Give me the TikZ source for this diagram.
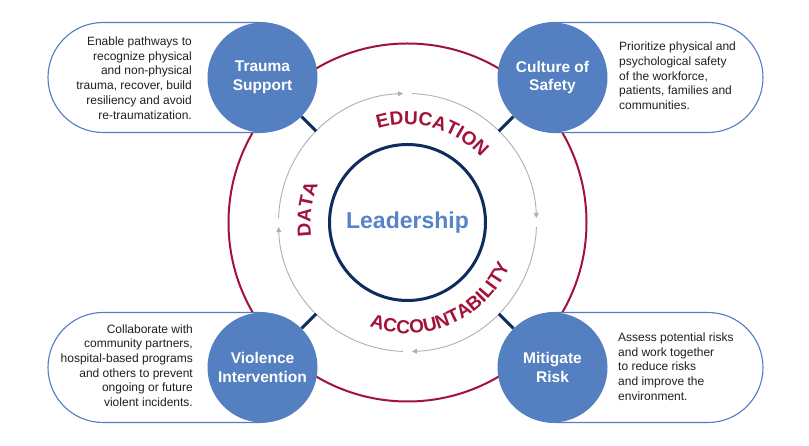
\documentclass[tikz,border=0pt]{standalone}
\usepackage{fontspec}
\setmainfont{Liberation Sans}
\usetikzlibrary{arrows.meta,decorations.text}
\definecolor{satblue}{RGB}{84,127,192}
\definecolor{pillblue}{RGB}{80,125,195}
\definecolor{ringred}{RGB}{163,18,58}
\definecolor{navy}{RGB}{14,44,94}
\definecolor{ringgray}{RGB}{176,176,176}
\definecolor{leadblue}{RGB}{86,132,200}
\definecolor{desc}{RGB}{35,31,32}
\newcommand\curvefont{\bfseries\fontsize{19}{19}\selectfont}
\begin{document}
\begin{tikzpicture}[x=1pt,y=1pt,
  sat/.style={circle,fill=satblue,minimum size=110pt,inner sep=0pt,text=white,
    font=\bfseries\fontsize{15.5}{18.5}\selectfont,align=center},
  pill/.style={draw=pillblue,line width=1.1pt,fill=white,rounded corners=55pt},
  desctext/.style={inner sep=0pt,text=desc,font=\fontsize{12}{14.7}\selectfont},
  conn/.style={draw=navy,line width=3pt},
  grayarc/.style={draw=ringgray,line width=0.9pt,-{Triangle[length=5pt,width=5pt]}},
  curved/.style={decorate,decoration={text along path,text align=center,text color=ringred}}
]
\fill[white] (0,0) rectangle (809,446);
\useasboundingbox (0,0) rectangle (809,446);
\coordinate (C) at (407.5,223.5);
% outer red ring
\draw[ringred,line width=2pt] (C) circle[radius=179];
% gray cycle arrows
\draw[grayarc] ([shift={(178:129)}]C) arc[start angle=178,end angle=92,radius=129];
\draw[grayarc] ([shift={(88:129)}]C) arc[start angle=88,end angle=2,radius=129];
\draw[grayarc] ([shift={(-2:129)}]C) arc[start angle=-2,end angle=-88,radius=129];
\draw[grayarc] ([shift={(-92:129)}]C) arc[start angle=-92,end angle=-178,radius=129];
\node[circle,minimum size=258pt,inner sep=0pt] (ring) at (C) {};
% pills
\draw[pill] (48,313.5) rectangle (314,423.5);
\draw[pill] (500,313.5) rectangle (763,423.5);
\draw[pill] (48,23.5) rectangle (314,133.5);
\draw[pill] (500,23.5) rectangle (763,133.5);
% satellites
\node[sat] (ts) at (262.5,368.5) {Trauma\\Support};
\node[sat] (cs) at (552.5,368.5) {Culture of\\Safety};
\node[sat] (vi) at (262.5,78.5) {Violence\\Intervention};
\node[sat] (mr) at (552.5,78.5) {Mitigate\\Risk};
% connectors
\draw[conn] (ts) -- (ring);
\draw[conn] (cs) -- (ring);
\draw[conn] (vi) -- (ring);
\draw[conn] (mr) -- (ring);
% leadership
\node[circle,draw=navy,line width=3pt,minimum size=156pt,inner sep=0pt,text=leadblue,
  font=\bfseries\fontsize{23}{23}\selectfont] (lead) at (C) {Leadership};
% descriptions
\node[desctext,align=right,anchor=east] (tsd) at (192,368) {Enable pathways to\\recognize physical\\and non-physical\\trauma, recover, build\\resiliency and avoid\\re-traumatization.};
\node[desctext,align=left,anchor=west] (csd) at (619,370) {Prioritize physical and\\psychological safety\\of the workforce,\\patients, families and\\communities.};
\node[desctext,align=right,anchor=east] (vid) at (193,80.5) {Collaborate with\\community partners,\\hospital-based programs\\and others to prevent\\ongoing or future\\violent incidents.};
\node[desctext,align=left,anchor=west] (mrd) at (618,79.5) {Assess potential risks\\and work together\\to reduce risks\\and improve the\\environment.};
% curved labels
\path[curved,decoration={text={|\curvefont|EDUCATION}}] ([shift={(120:98)}]C) arc[start angle=120,end angle=29,radius=98];
\path[curved,decoration={text={|\curvefont|ACCOUNTABILITY}}] ([shift={(-130:111)}]C) arc[start angle=-130,end angle=-3,radius=111];
\path[curved,decoration={text={|\curvefont|DATA}}] ([shift={(202:97)}]C) arc[start angle=202,end angle=143,radius=97];
\end{tikzpicture}
\end{document}
